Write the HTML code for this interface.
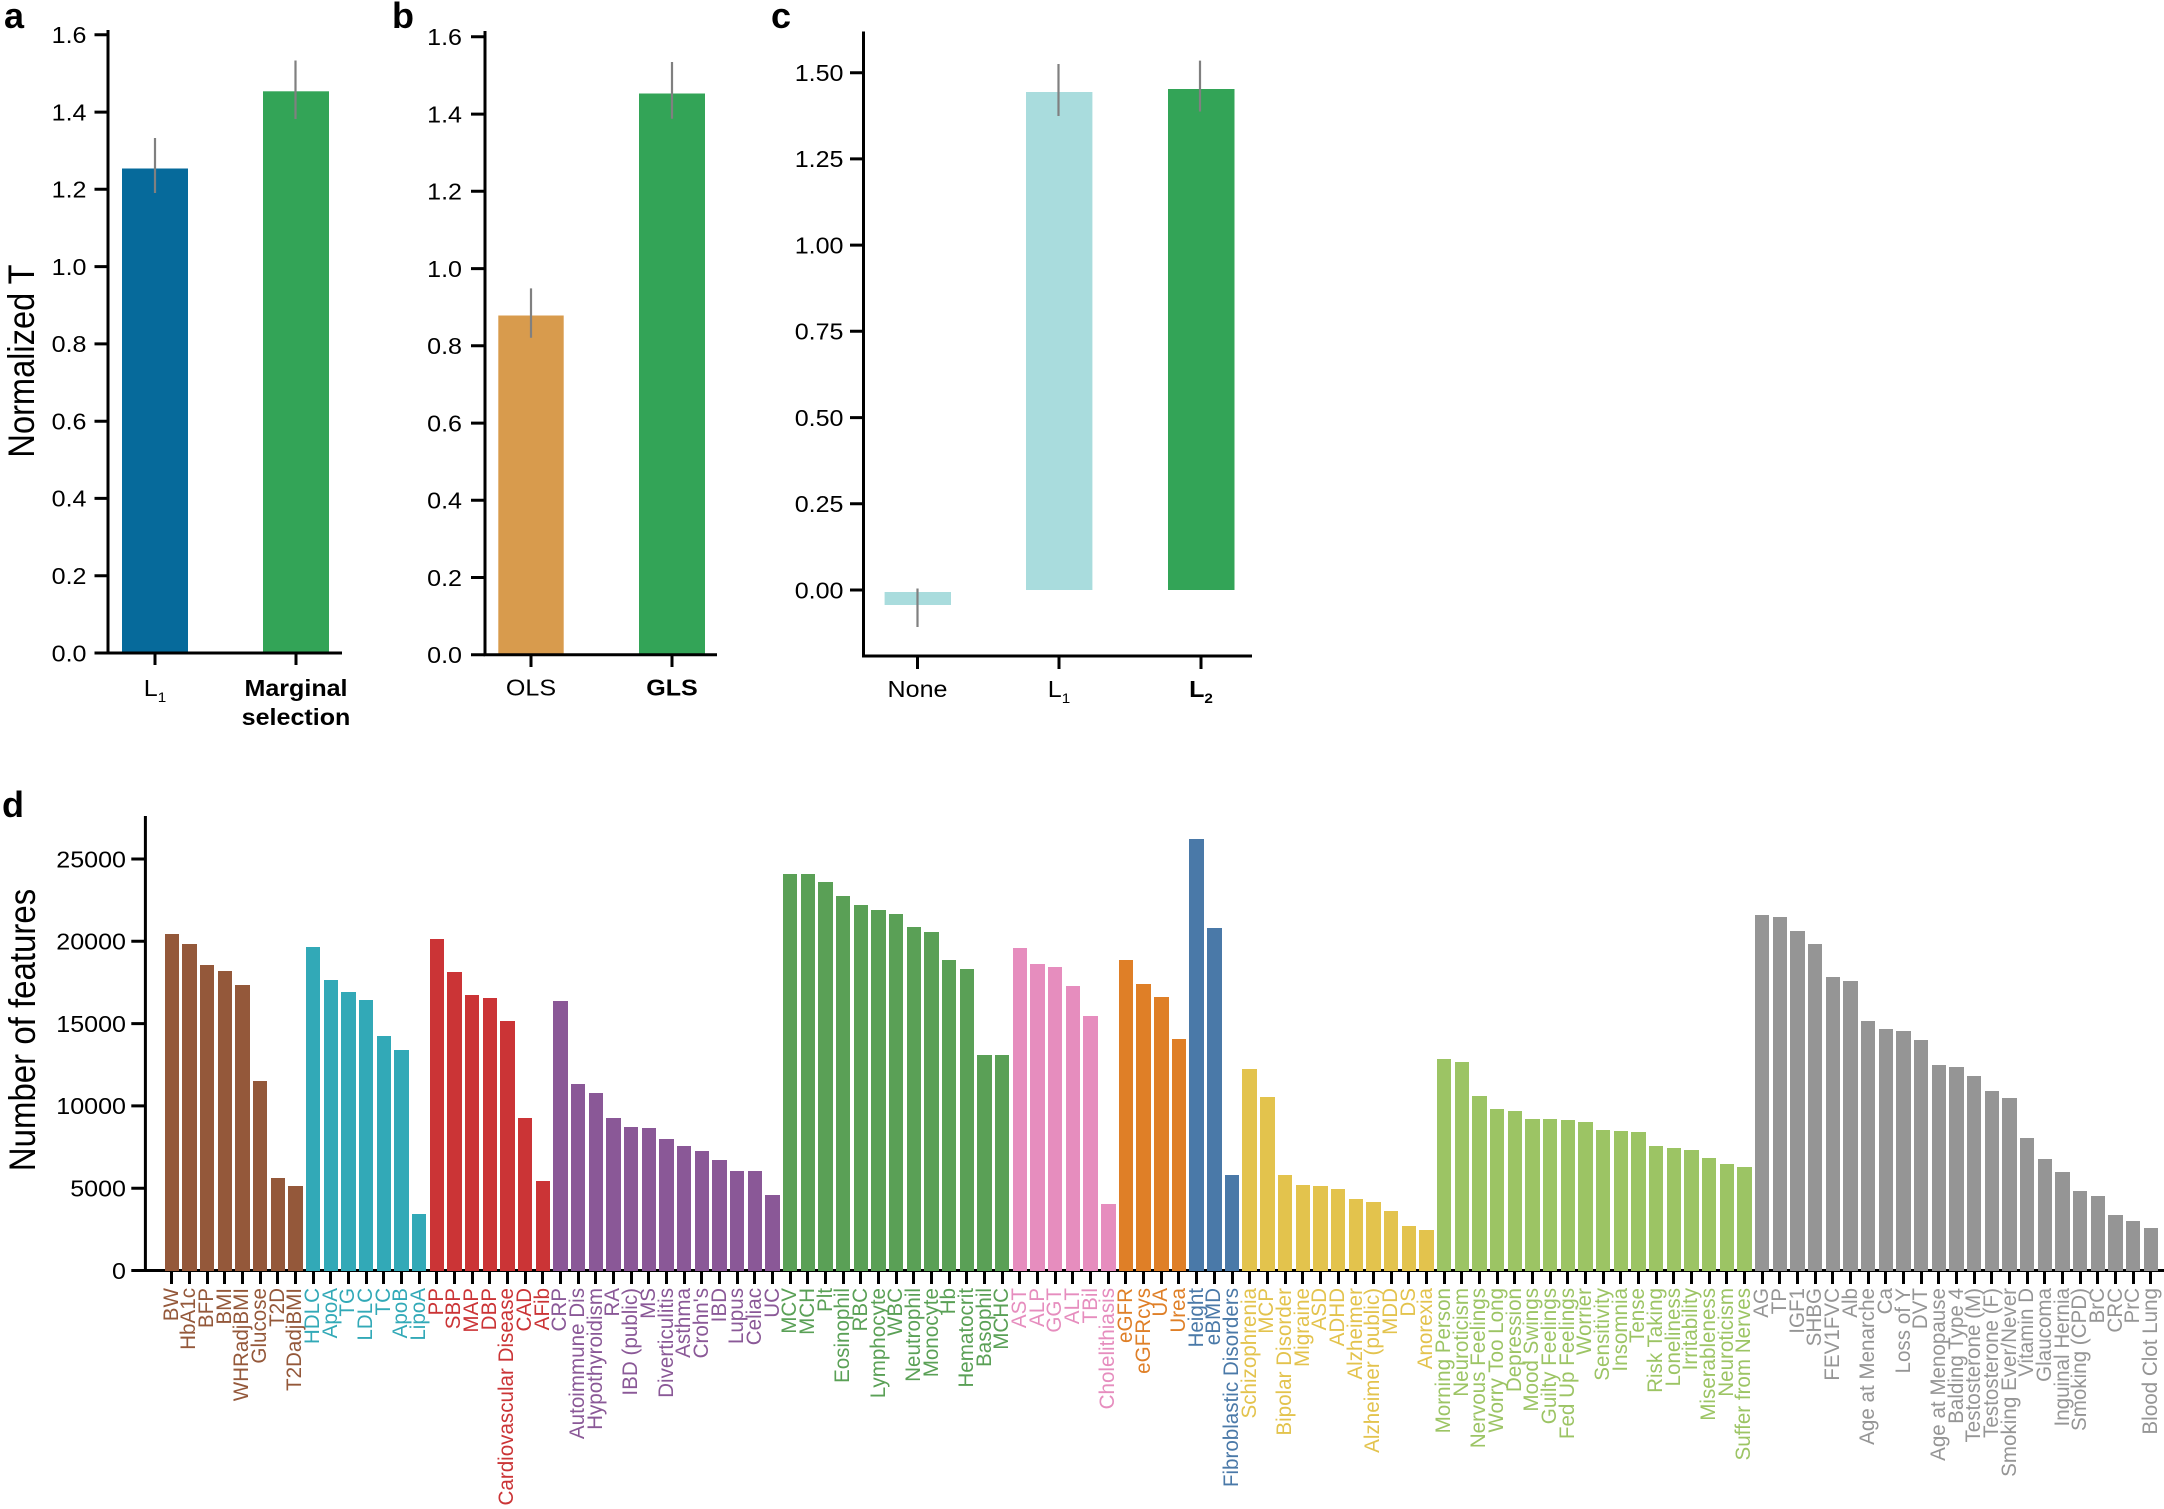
<!DOCTYPE html>
<html>
<head>
<meta charset="utf-8">
<style>
  html,body{margin:0;padding:0;background:#fff;}
  #root{position:relative;width:2164px;height:1509px;overflow:hidden;background:#fff;font-family:"Liberation Sans",Arial,sans-serif;}
  svg{position:absolute;left:0;top:0;}
  #cols{position:absolute;left:162.87px;top:816px;width:1996.3px;height:693px;display:flex;}
  .c{flex:1 1 0;min-width:0;position:relative;height:100%;}
  .c i{position:absolute;bottom:238.5px;left:50%;width:14.4px;margin-left:-7.2px;background:currentColor;display:block;}
  .c b{position:absolute;top:454.5px;left:50%;width:3px;margin-left:-1.5px;height:13px;background:#000;display:block;}
  .c span{position:absolute;top:472px;left:50%;writing-mode:vertical-rl;white-space:nowrap;line-height:1;font-size:20.6px;transform:translateX(-50%) scaleX(1.04) rotate(180deg);}
  .br{color:#94583a}.cy{color:#32a9b7}.rd{color:#cb3436}.pu{color:#8a5897}.gn{color:#5aa056}
  .pk{color:#e68dbe}.or{color:#df7f27}.bl{color:#4a79a8}.ye{color:#e3c34d}.lg{color:#9cc464}.gy{color:#959595}
</style>
</head>
<body>
<div id="root">
<svg width="2164" height="1509" viewBox="0 0 2164 1509" xmlns="http://www.w3.org/2000/svg" font-family="Liberation Sans, Arial, sans-serif">
  <!-- panel letters -->
  <g font-size="36" font-weight="bold" fill="#000">
    <text x="4" y="28">a</text>
    <text x="392" y="28">b</text>
    <text x="771" y="28">c</text>
    <text x="2" y="817">d</text>
  </g>

  <!-- ===== Panel a ===== -->
  <rect x="122" y="168.5" width="66" height="484.5" fill="#066a9b"/>
  <rect x="263" y="91.3" width="66" height="561.7" fill="#33a457"/>
  <path d="M155 138V193M295.5 60.5V119" stroke="#808080" stroke-width="2.2"/>
  <path d="M108 30V654.5M106.5 653H342" stroke="#000" stroke-width="3" fill="none"/>
  <path d="M94.5 653H108M94.5 575.7H108M94.5 498.4H108M94.5 421.2H108M94.5 343.9H108M94.5 266.6H108M94.5 189.3H108M94.5 112.1H108M94.5 34.8H108M155 653V665M296 653V665" stroke="#000" stroke-width="3"/>
  <g font-size="23" fill="#000" text-anchor="end">
    <text transform="translate(86.5,661.3) scale(1.09,1)">0.0</text>
    <text transform="translate(86.5,584) scale(1.09,1)">0.2</text>
    <text transform="translate(86.5,506.7) scale(1.09,1)">0.4</text>
    <text transform="translate(86.5,429.5) scale(1.09,1)">0.6</text>
    <text transform="translate(86.5,352.2) scale(1.09,1)">0.8</text>
    <text transform="translate(86.5,274.9) scale(1.09,1)">1.0</text>
    <text transform="translate(86.5,197.6) scale(1.09,1)">1.2</text>
    <text transform="translate(86.5,120.4) scale(1.09,1)">1.4</text>
    <text transform="translate(86.5,43.1) scale(1.09,1)">1.6</text>
  </g>
  <g font-size="23" fill="#000" text-anchor="middle">
    <text transform="translate(155,696) scale(1.09,1)">L<tspan font-size="14" dy="6">1</tspan></text>
    <text transform="translate(296,696) scale(1.09,1)" font-weight="bold">Marginal</text>
    <text transform="translate(296,725) scale(1.09,1)" font-weight="bold">selection</text>
  </g>
  <text transform="translate(34,361) scale(1.13,1) rotate(-90)" font-size="32.6" text-anchor="middle" fill="#000">Normalized T</text>

  <!-- ===== Panel b ===== -->
  <rect x="498.3" y="315.5" width="65.4" height="339.3" fill="#d89b4d"/>
  <rect x="639" y="93.5" width="66" height="561.3" fill="#33a457"/>
  <path d="M531 288.4V337.8M672 62V118.8" stroke="#808080" stroke-width="2.2"/>
  <path d="M485 31V656.3M483.5 654.8H717" stroke="#000" stroke-width="3" fill="none"/>
  <path d="M471 654.8H485M471 577.5H485M471 500.3H485M471 423.1H485M471 345.8H485M471 268.6H485M471 191.3H485M471 114.1H485M471 36.8H485M531 654.8V667M672 654.8V667" stroke="#000" stroke-width="3"/>
  <g font-size="23" fill="#000" text-anchor="end">
    <text transform="translate(462,663.1) scale(1.09,1)">0.0</text>
    <text transform="translate(462,585.8) scale(1.09,1)">0.2</text>
    <text transform="translate(462,508.6) scale(1.09,1)">0.4</text>
    <text transform="translate(462,431.4) scale(1.09,1)">0.6</text>
    <text transform="translate(462,354.1) scale(1.09,1)">0.8</text>
    <text transform="translate(462,276.9) scale(1.09,1)">1.0</text>
    <text transform="translate(462,199.6) scale(1.09,1)">1.2</text>
    <text transform="translate(462,122.4) scale(1.09,1)">1.4</text>
    <text transform="translate(462,45.1) scale(1.09,1)">1.6</text>
  </g>
  <g font-size="23" fill="#000" text-anchor="middle">
    <text transform="translate(531,695.5) scale(1.09,1)">OLS</text>
    <text transform="translate(672,695.5) scale(1.09,1)" font-weight="bold">GLS</text>
  </g>

  <!-- ===== Panel c ===== -->
  <rect x="884.6" y="592" width="66.4" height="13" fill="#a9dcdd"/>
  <rect x="1026" y="92" width="66.4" height="498" fill="#a9dcdd"/>
  <rect x="1168" y="89" width="66.5" height="501" fill="#33a457"/>
  <path d="M917.5 588.5V627M1058.5 64V116M1200 60.6V111.5" stroke="#808080" stroke-width="2.2"/>
  <path d="M863.5 31.5V657.5M862 656H1252" stroke="#000" stroke-width="3" fill="none"/>
  <path d="M850 590H863.5M850 503.8H863.5M850 417.6H863.5M850 331.3H863.5M850 245.1H863.5M850 158.9H863.5M850 72.7H863.5M917.5 656V669M1059 656V669M1201 656V669" stroke="#000" stroke-width="3"/>
  <g font-size="23" fill="#000" text-anchor="end">
    <text transform="translate(843.5,598.3) scale(1.09,1)">0.00</text>
    <text transform="translate(843.5,512.1) scale(1.09,1)">0.25</text>
    <text transform="translate(843.5,425.9) scale(1.09,1)">0.50</text>
    <text transform="translate(843.5,339.6) scale(1.09,1)">0.75</text>
    <text transform="translate(843.5,253.4) scale(1.09,1)">1.00</text>
    <text transform="translate(843.5,167.2) scale(1.09,1)">1.25</text>
    <text transform="translate(843.5,81) scale(1.09,1)">1.50</text>
  </g>
  <g font-size="23" fill="#000" text-anchor="middle">
    <text transform="translate(917.5,697) scale(1.09,1)">None</text>
    <text transform="translate(1059,697) scale(1.09,1)">L<tspan font-size="14" dy="6">1</tspan></text>
    <text transform="translate(1201,697) scale(1.09,1)" font-weight="bold">L<tspan font-size="14" dy="6">2</tspan></text>
  </g>

  <!-- ===== Panel d axes ===== -->
  <path d="M145.4 816V1272M131.3 1270.5H2164" stroke="#000" stroke-width="3" fill="none"/>
  <path d="M131.3 859H145.4M131.3 941.3H145.4M131.3 1023.6H145.4M131.3 1105.9H145.4M131.3 1188.2H145.4" stroke="#000" stroke-width="3"/>
  <g font-size="23" fill="#000" text-anchor="end">
    <text transform="translate(126,867.3) scale(1.09,1)">25000</text>
    <text transform="translate(126,949.6) scale(1.09,1)">20000</text>
    <text transform="translate(126,1031.9) scale(1.09,1)">15000</text>
    <text transform="translate(126,1114.2) scale(1.09,1)">10000</text>
    <text transform="translate(126,1196.5) scale(1.09,1)">5000</text>
    <text transform="translate(126,1278.8) scale(1.09,1)">0</text>
  </g>
  <text transform="translate(35,1030) scale(1.13,1) rotate(-90)" font-size="33" text-anchor="middle" fill="#000">Number of features</text>
</svg>

<div id="cols">
  <div class="c br"><i style="height:336.1px"></i><b></b><span>BW</span></div>
  <div class="c br"><i style="height:326.9px"></i><b></b><span>HbA1c</span></div>
  <div class="c br"><i style="height:305.5px"></i><b></b><span>BFP</span></div>
  <div class="c br"><i style="height:299.4px"></i><b></b><span>BMI</span></div>
  <div class="c br"><i style="height:285.9px"></i><b></b><span>WHRadjBMI</span></div>
  <div class="c br"><i style="height:189.3px"></i><b></b><span>Glucose</span></div>
  <div class="c br"><i style="height:93px"></i><b></b><span>T2D</span></div>
  <div class="c br"><i style="height:84.6px"></i><b></b><span>T2DadjBMI</span></div>

  <div class="c cy"><i style="height:323.1px"></i><b></b><span>HDLC</span></div>
  <div class="c cy"><i style="height:290.7px"></i><b></b><span>ApoA</span></div>
  <div class="c cy"><i style="height:278.5px"></i><b></b><span>TG</span></div>
  <div class="c cy"><i style="height:270.1px"></i><b></b><span>LDLC</span></div>
  <div class="c cy"><i style="height:234.9px"></i><b></b><span>TC</span></div>
  <div class="c cy"><i style="height:220.4px"></i><b></b><span>ApoB</span></div>
  <div class="c cy"><i style="height:56.8px"></i><b></b><span>LipoA</span></div>

  <div class="c rd"><i style="height:331.5px"></i><b></b><span>PP</span></div>
  <div class="c rd"><i style="height:298.1px"></i><b></b><span>SBP</span></div>
  <div class="c rd"><i style="height:275.2px"></i><b></b><span>MAP</span></div>
  <div class="c rd"><i style="height:272.1px"></i><b></b><span>DBP</span></div>
  <div class="c rd"><i style="height:249.7px"></i><b></b><span>Cardiovascular Disease</span></div>
  <div class="c rd"><i style="height:152.9px"></i><b></b><span>CAD</span></div>
  <div class="c rd"><i style="height:89.7px"></i><b></b><span>AFib</span></div>

  <div class="c pu"><i style="height:269.3px"></i><b></b><span>CRP</span></div>
  <div class="c pu"><i style="height:187px"></i><b></b><span>Autoimmune Dis</span></div>
  <div class="c pu"><i style="height:177.1px"></i><b></b><span>Hypothyroidism</span></div>
  <div class="c pu"><i style="height:152.1px"></i><b></b><span>RA</span></div>
  <div class="c pu"><i style="height:143.2px"></i><b></b><span>IBD (public)</span></div>
  <div class="c pu"><i style="height:142.2px"></i><b></b><span>MS</span></div>
  <div class="c pu"><i style="height:131.2px"></i><b></b><span>Diverticulitis</span></div>
  <div class="c pu"><i style="height:124.1px"></i><b></b><span>Asthma</span></div>
  <div class="c pu"><i style="height:120px"></i><b></b><span>Crohn's</span></div>
  <div class="c pu"><i style="height:110.1px"></i><b></b><span>IBD</span></div>
  <div class="c pu"><i style="height:99.9px"></i><b></b><span>Lupus</span></div>
  <div class="c pu"><i style="height:99.9px"></i><b></b><span>Celiac</span></div>
  <div class="c pu"><i style="height:75.4px"></i><b></b><span>UC</span></div>

  <div class="c gn"><i style="height:397px"></i><b></b><span>MCV</span></div>
  <div class="c gn"><i style="height:396.2px"></i><b></b><span>MCH</span></div>
  <div class="c gn"><i style="height:388.3px"></i><b></b><span>Plt</span></div>
  <div class="c gn"><i style="height:374.3px"></i><b></b><span>Eosinophil</span></div>
  <div class="c gn"><i style="height:365.1px"></i><b></b><span>RBC</span></div>
  <div class="c gn"><i style="height:360.8px"></i><b></b><span>Lymphocyte</span></div>
  <div class="c gn"><i style="height:356.7px"></i><b></b><span>WBC</span></div>
  <div class="c gn"><i style="height:344px"></i><b></b><span>Neutrophil</span></div>
  <div class="c gn"><i style="height:338.1px"></i><b></b><span>Monocyte</span></div>
  <div class="c gn"><i style="height:310.6px"></i><b></b><span>Hb</span></div>
  <div class="c gn"><i style="height:301.7px"></i><b></b><span>Hematocrit</span></div>
  <div class="c gn"><i style="height:215.8px"></i><b></b><span>Basophil</span></div>
  <div class="c gn"><i style="height:215.8px"></i><b></b><span>MCHC</span></div>

  <div class="c pk"><i style="height:322.6px"></i><b></b><span>AST</span></div>
  <div class="c pk"><i style="height:306.5px"></i><b></b><span>ALP</span></div>
  <div class="c pk"><i style="height:303.7px"></i><b></b><span>GGT</span></div>
  <div class="c pk"><i style="height:284.6px"></i><b></b><span>ALT</span></div>
  <div class="c pk"><i style="height:254.3px"></i><b></b><span>TBil</span></div>
  <div class="c pk"><i style="height:67px"></i><b></b><span>Cholelithiasis</span></div>

  <div class="c or"><i style="height:310.6px"></i><b></b><span>eGFR</span></div>
  <div class="c or"><i style="height:286.9px"></i><b></b><span>eGFRcys</span></div>
  <div class="c or"><i style="height:273.9px"></i><b></b><span>UA</span></div>
  <div class="c or"><i style="height:231.1px"></i><b></b><span>Urea</span></div>

  <div class="c bl"><i style="height:431.1px"></i><b></b><span>Height</span></div>
  <div class="c bl"><i style="height:342.7px"></i><b></b><span>eBMD</span></div>
  <div class="c bl"><i style="height:95.3px"></i><b></b><span>Fibroblastic Disorders</span></div>

  <div class="c ye"><i style="height:201.3px"></i><b></b><span>Schizophrenia</span></div>
  <div class="c ye"><i style="height:173.8px"></i><b></b><span>MCP</span></div>
  <div class="c ye"><i style="height:95.3px"></i><b></b><span>Bipolar Disorder</span></div>
  <div class="c ye"><i style="height:85.1px"></i><b></b><span>Migraine</span></div>
  <div class="c ye"><i style="height:84.6px"></i><b></b><span>ASD</span></div>
  <div class="c ye"><i style="height:81.3px"></i><b></b><span>ADHD</span></div>
  <div class="c ye"><i style="height:71.6px"></i><b></b><span>Alzheimer</span></div>
  <div class="c ye"><i style="height:68.8px"></i><b></b><span>Alzheimer (public)</span></div>
  <div class="c ye"><i style="height:59.6px"></i><b></b><span>MDD</span></div>
  <div class="c ye"><i style="height:44.1px"></i><b></b><span>DS</span></div>
  <div class="c ye"><i style="height:41px"></i><b></b><span>Anorexia</span></div>

  <div class="c lg"><i style="height:212px"></i><b></b><span>Morning Person</span></div>
  <div class="c lg"><i style="height:208.7px"></i><b></b><span>Neuroticism</span></div>
  <div class="c lg"><i style="height:174.3px"></i><b></b><span>Nervous Feelings</span></div>
  <div class="c lg"><i style="height:161.8px"></i><b></b><span>Worry Too Long</span></div>
  <div class="c lg"><i style="height:160px"></i><b></b><span>Depression</span></div>
  <div class="c lg"><i style="height:151.6px"></i><b></b><span>Mood Swings</span></div>
  <div class="c lg"><i style="height:151.1px"></i><b></b><span>Guilty Feelings</span></div>
  <div class="c lg"><i style="height:150.1px"></i><b></b><span>Fed Up Feelings</span></div>
  <div class="c lg"><i style="height:148.3px"></i><b></b><span>Worrier</span></div>
  <div class="c lg"><i style="height:140.9px"></i><b></b><span>Sensitivity</span></div>
  <div class="c lg"><i style="height:139.1px"></i><b></b><span>Insomnia</span></div>
  <div class="c lg"><i style="height:138.1px"></i><b></b><span>Tense</span></div>
  <div class="c lg"><i style="height:124.1px"></i><b></b><span>Risk Taking</span></div>
  <div class="c lg"><i style="height:123px"></i><b></b><span>Loneliness</span></div>
  <div class="c lg"><i style="height:120.8px"></i><b></b><span>Irritability</span></div>
  <div class="c lg"><i style="height:112.6px"></i><b></b><span>Miserableness</span></div>
  <div class="c lg"><i style="height:107px"></i><b></b><span>Neuroticism</span></div>
  <div class="c lg"><i style="height:103.7px"></i><b></b><span>Suffer from Nerves</span></div>

  <div class="c gy"><i style="height:355.7px"></i><b></b><span>AG</span></div>
  <div class="c gy"><i style="height:353.4px"></i><b></b><span>TP</span></div>
  <div class="c gy"><i style="height:339.4px"></i><b></b><span>IGF1</span></div>
  <div class="c gy"><i style="height:326.4px"></i><b></b><span>SHBG</span></div>
  <div class="c gy"><i style="height:293.3px"></i><b></b><span>FEV1FVC</span></div>
  <div class="c gy"><i style="height:289.7px"></i><b></b><span>Alb</span></div>
  <div class="c gy"><i style="height:249.2px"></i><b></b><span>Age at Menarche</span></div>
  <div class="c gy"><i style="height:241.3px"></i><b></b><span>Ca</span></div>
  <div class="c gy"><i style="height:240px"></i><b></b><span>Loss of Y</span></div>
  <div class="c gy"><i style="height:230.6px"></i><b></b><span>DVT</span></div>
  <div class="c gy"><i style="height:205.9px"></i><b></b><span>Age at Menopause</span></div>
  <div class="c gy"><i style="height:203.1px"></i><b></b><span>Balding Type 4</span></div>
  <div class="c gy"><i style="height:194.4px"></i><b></b><span>Testosterone (M)</span></div>
  <div class="c gy"><i style="height:179.1px"></i><b></b><span>Testosterone (F)</span></div>
  <div class="c gy"><i style="height:173px"></i><b></b><span>Smoking Ever/Never</span></div>
  <div class="c gy"><i style="height:132.5px"></i><b></b><span>Vitamin D</span></div>
  <div class="c gy"><i style="height:111.1px"></i><b></b><span>Glaucoma</span></div>
  <div class="c gy"><i style="height:98.1px"></i><b></b><span>Inguinal Hernia</span></div>
  <div class="c gy"><i style="height:80px"></i><b></b><span>Smoking (CPD)</span></div>
  <div class="c gy"><i style="height:74.4px"></i><b></b><span>BrC</span></div>
  <div class="c gy"><i style="height:55.3px"></i><b></b><span>CRC</span></div>
  <div class="c gy"><i style="height:49.7px"></i><b></b><span>PrC</span></div>
  <div class="c gy"><i style="height:42.8px"></i><b></b><span>Blood Clot Lung</span></div>
</div>
</div>
</body>
</html>
